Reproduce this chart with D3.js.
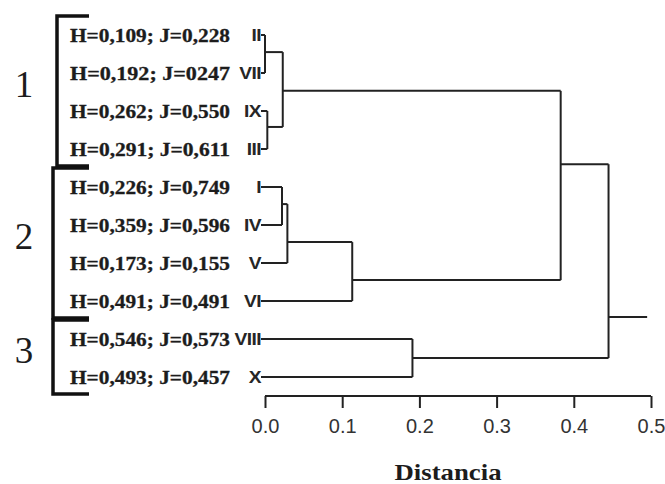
<!DOCTYPE html>
<html>
<head>
<meta charset="utf-8">
<script src="https://cdn.jsdelivr.net/npm/d3@7"></script>
<style>
  body { margin: 0; background: #fff; }
  svg { display: block; }
</style>
</head>
<body>
<script>
// leaves, top to bottom
var leafNames = ["II", "VII", "IX", "III", "I", "IV", "V", "VI", "VIII", "X"];
var leafStats = ["H=0,109; J=0,228", "H=0,192; J=0247", "H=0,262; J=0,550", "H=0,291; J=0,611",
                 "H=0,226; J=0,749", "H=0,359; J=0,596", "H=0,173; J=0,155", "H=0,491; J=0,491",
                 "H=0,546; J=0,573", "H=0,493; J=0,457"];

// clusters (merge nodes)
var nodeIds   = ["a", "b", "c", "d", "e", "f", "g", "h", "root"];
var nodeKids  = [["II", "VII"], ["IX", "III"], ["a", "b"], ["I", "IV"], ["d", "V"],
                 ["e", "VI"], ["c", "f"], ["VIII", "X"], ["g", "h"]];
var nodeDist  = [0.0, 0.003, 0.023, 0.022, 0.029, 0.113, 0.383, 0.191, 0.445];
var nodeRow   = [0.45, 2.42, 1.47, 4.45, 5.45, 6.45, 3.4, 8.5, 7.42];   // position in leaf rows
var rootTail  = 0.495;

// groups
var groupNames = ["1", "2", "3"];
var groupFirst = [0, 4, 8];
var groupLast  = [3, 7, 9];

var xTicks = [0, 0.1, 0.2, 0.3, 0.4, 0.5];

var width = 665, height = 484;

var svg = d3.select("body")
    .append("svg")
    .attr("width", width)
    .attr("height", height);

var x = d3.scaleLinear().domain([0, 0.5]).range([265, 651]);
var y = d3.scaleLinear().domain([0, 9]).range([35, 377]);

// lookup of positions
var pos = {};
leafNames.forEach(function(n, i) { pos[n] = {d: 0, r: i, leaf: true}; });
nodeIds.forEach(function(n, i) { pos[n] = {d: nodeDist[i], r: nodeRow[i], leaf: false}; });

var ink = "#1c1c1c";
var tree = svg.append("g")
    .attr("stroke", "#222")
    .attr("stroke-width", 2)
    .attr("fill", "none");

nodeIds.forEach(function(n, i) {
    var k0 = pos[nodeKids[i][0]], k1 = pos[nodeKids[i][1]];
    var nx = x(nodeDist[i]);
    tree.append("line")
        .attr("x1", nx).attr("x2", nx)
        .attr("y1", y(k0.r)).attr("y2", y(k1.r));
    [k0, k1].forEach(function(k) {
        var sx = k.leaf ? x(0) - 4 : x(k.d);
        tree.append("line")
            .attr("x1", sx).attr("x2", nx)
            .attr("y1", y(k.r)).attr("y2", y(k.r));
    });
});
var rootI = nodeIds.indexOf("root");
tree.append("line")
    .attr("x1", x(nodeDist[rootI])).attr("x2", x(rootTail))
    .attr("y1", y(nodeRow[rootI])).attr("y2", y(nodeRow[rootI]));

// leaf labels
svg.selectAll(".stat")
    .data(leafStats)
    .enter()
    .append("text")
    .attr("class", "stat")
    .attr("x", 70)
    .attr("y", function(d, i) { return y(i) + 6.5; })
    .attr("textLength", 160)
    .attr("lengthAdjust", "spacingAndGlyphs")
    .style("font-family", "'Liberation Serif', 'Times New Roman', serif")
    .style("font-weight", "bold")
    .style("font-size", "18px")
    .style("fill", ink)
    .style("stroke", ink)
    .style("stroke-width", 0.3)
    .text(function(d) { return d; });

svg.selectAll(".roman")
    .data(leafNames)
    .enter()
    .append("text")
    .attr("class", "roman")
    .attr("transform", function(d, i) { return "translate(261," + (y(i) + 6) + ") scale(1.2,1)"; })
    .attr("text-anchor", "end")
    .style("font-family", "'Liberation Sans', Arial, sans-serif")
    .style("font-weight", "bold")
    .style("font-size", "16px")
    .style("letter-spacing", "-0.5px")
    .style("fill", "#262626")
    .text(function(d) { return d; });

// group brackets
var br = svg.append("g")
    .attr("stroke", "#111")
    .attr("stroke-width", 3.5)
    .attr("fill", "none");
groupNames.forEach(function(g, i) {
    var y0 = y(groupFirst[i] - 0.5), y1 = y(groupLast[i] + 0.45);
    var bx = i === 0 ? 57 : 53;
    br.append("path")
        .attr("d", "M" + 89 + "," + y0 + "H" + bx + "V" + y1 + "H" + 89);
    svg.append("text")
        .attr("x", 24)
        .attr("y", y((groupFirst[i] + groupLast[i]) / 2) + 5)
        .attr("text-anchor", "middle")
        .style("font-family", "'Liberation Serif', 'Times New Roman', serif")
        .style("font-size", "37px")
        .style("fill", ink)
        .text(g);
});

// axis
var axis = svg.append("g")
    .attr("transform", "translate(0,396)")
    .call(d3.axisBottom(x).tickValues(xTicks).tickSize(12).tickPadding(11)
        .tickFormat(d3.format(".1f")));
axis.select(".domain")
    .attr("stroke", "#222")
    .attr("stroke-width", 2)
    .attr("d", "M" + x(0) + ",0H" + x(0.5));
axis.selectAll(".tick line")
    .attr("stroke", "#222")
    .attr("stroke-width", 2);
axis.selectAll(".tick text")
    .style("font-family", "'Liberation Sans', Arial, sans-serif")
    .style("font-size", "20px")
    .style("fill", "#333");

svg.append("text")
    .attr("x", 448)
    .attr("y", 480)
    .attr("text-anchor", "middle")
    .attr("textLength", 107)
    .attr("lengthAdjust", "spacingAndGlyphs")
    .style("font-family", "'Liberation Serif', 'Times New Roman', serif")
    .style("font-weight", "bold")
    .style("font-size", "23px")
    .style("fill", ink)
    .text("Distancia");
</script>
</body>
</html>
